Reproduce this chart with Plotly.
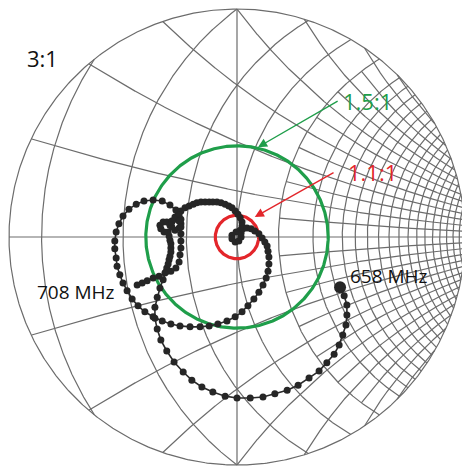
import numpy as np
import plotly.graph_objects as go

# ---- chart data ---------------------------------------------------------
# Zoomed Smith chart: outer boundary is the 3:1 VSWR circle
boundary_vswr = 3.0
vswr_circles = [1.5, 1.1]
vswr_colors = ["#1f9e4a", "#e3262b"]

# Constant-resistance / constant-reactance grid values
r_major = [0.4, 0.6, 0.8, 1.0, 1.2, 1.4]
r_fine = [1.5, 1.6, 1.7, 1.8, 1.9, 2.0, 2.1, 2.2, 2.3, 2.4, 2.5, 2.6, 2.7, 2.8, 2.9, 3.0]
x_major = [0.2, 0.4, 0.6, 0.8, 1.0, 1.2]
x_fine = [0.1, 0.3, 0.5, 0.7, 0.9, 1.1, 1.3]
x_fine_from_r = 1.2

# Measured reflection coefficient, 658 MHz -> 708 MHz
gamma_re = [0.226, 0.235, 0.241, 0.241, 0.239, 0.232, 0.224, 0.213, 0.197, 0.180,
            0.158, 0.134, 0.110, 0.083, 0.057, 0.029, 0.000, -0.026, -0.053, -0.077,
            -0.099, -0.118, -0.138, -0.154, -0.167, -0.175, -0.180, -0.180, -0.175, -0.169,
            -0.162, -0.156,
            -0.154, -0.151, -0.149, -0.147, -0.145, -0.145, -0.145, -0.147, -0.149,
            -0.151, -0.160, -0.167, -0.169, -0.162, -0.154, -0.147, -0.143, -0.136, -0.129,
            -0.123, -0.114, -0.105, -0.096, -0.088, -0.079, -0.070, -0.061, -0.053, -0.044,
            -0.035, -0.026, -0.018, -0.011, -0.004, 0.002, 0.007, 0.011, 0.011,
            0.007, -0.002, -0.011, -0.011, -0.004, 0.004, 0.009, 0.009, 0.013, 0.022,
            0.031, 0.039, 0.048, 0.055, 0.061, 0.066, 0.068,
            0.070, 0.070, 0.068, 0.064, 0.057, 0.048, 0.037, 0.024, 0.011, -0.004,
            -0.022, -0.042, -0.061, -0.081, -0.103, -0.125, -0.145, -0.164, -0.184, -0.202,
            -0.217, -0.230, -0.241, -0.250, -0.257, -0.263, -0.265, -0.268, -0.268, -0.265,
            -0.259, -0.250, -0.237, -0.221, -0.204, -0.184, -0.164, -0.147, -0.134,
            -0.127, -0.123, -0.123, -0.127, -0.136, -0.143, -0.143, -0.136, -0.127,
            -0.123, -0.123, -0.123, -0.123, -0.125, -0.127, -0.134, -0.145,
            -0.158, -0.171, -0.184, -0.197, -0.208, -0.219]
gamma_im = [-0.110, -0.129, -0.149, -0.171, -0.193, -0.215, -0.237, -0.257, -0.276, -0.294,
            -0.309, -0.325, -0.336, -0.344, -0.351, -0.353, -0.353, -0.349, -0.340, -0.329,
            -0.314, -0.296, -0.274, -0.250, -0.226, -0.202, -0.178, -0.154, -0.132, -0.112,
            -0.094, -0.077,
            -0.068, -0.059, -0.050, -0.042, -0.033, -0.024, -0.015, -0.007, 0.002,
            0.011, 0.011, 0.018, 0.026, 0.033, 0.033, 0.026, 0.035, 0.044, 0.050,
            0.057, 0.064, 0.068, 0.072, 0.075, 0.077, 0.077, 0.077, 0.077, 0.077,
            0.075, 0.072, 0.068, 0.064, 0.057, 0.050, 0.042, 0.033, 0.024,
            0.015, 0.011, 0.004, -0.004, -0.011, -0.009, 0.000, 0.009, 0.018, 0.020,
            0.018, 0.013, 0.007, -0.002, -0.011, -0.020, -0.031,
            -0.044, -0.059, -0.075, -0.090, -0.105, -0.121, -0.136, -0.151, -0.164, -0.175,
            -0.184, -0.191, -0.195, -0.197, -0.197, -0.195, -0.191, -0.184, -0.175, -0.164,
            -0.151, -0.136, -0.118, -0.101, -0.083, -0.064, -0.046, -0.026, -0.009, 0.011,
            0.029, 0.046, 0.061, 0.072, 0.079, 0.081, 0.079, 0.070, 0.059,
            0.048, 0.039, 0.029, 0.020, 0.015, 0.022, 0.033, 0.039, 0.035,
            0.022, 0.007, -0.009, -0.024, -0.039, -0.055, -0.068, -0.075,
            -0.079, -0.086, -0.090, -0.096, -0.101, -0.105]
freq_labels = ["658 MHz", "708 MHz"]

# ---- geometry helpers ---------------------------------------------------
g_max = (boundary_vswr - 1) / (boundary_vswr + 1)


def to_gamma(z):
    return (z - 1) / (z + 1)


def clipped(g):
    g = np.where(np.abs(g) <= g_max + 1e-9, g, np.nan + 1j * np.nan)
    return list(g.real) + [None], list(g.imag) + [None]


gx, gy = [], []
xs = np.linspace(-1.6, 1.6, 3000)
for r in r_major + r_fine:
    a, b = clipped(to_gamma(r + 1j * xs))
    gx += a
    gy += b
rs_all = np.linspace(0.3, 3.6, 3000)
rs_fine = np.linspace(x_fine_from_r, 3.6, 3000)
for xv in x_major:
    for s in (1, -1):
        a, b = clipped(to_gamma(rs_all + 1j * s * xv))
        gx += a
        gy += b
for xv in x_fine:
    for s in (1, -1):
        a, b = clipped(to_gamma(rs_fine + 1j * s * xv))
        gx += a
        gy += b
# real axis and vertical centre line
gx += [-g_max, g_max, None, 0, 0, None]
gy += [0, 0, None, -g_max, g_max, None]
# outer 3:1 boundary
t = np.linspace(0, 2 * np.pi, 721)
gx += list(g_max * np.cos(t))
gy += list(g_max * np.sin(t))

grid_color = "#6c6c6c"
fig = go.Figure()
fig.add_trace(go.Scatter(x=gx, y=gy, mode="lines",
                         line=dict(color=grid_color, width=1.2),
                         hoverinfo="skip", showlegend=False))

for s, col in zip(vswr_circles, vswr_colors):
    rad = (s - 1) / (s + 1)
    fig.add_trace(go.Scatter(x=rad * np.cos(t), y=rad * np.sin(t), mode="lines",
                             line=dict(color=col, width=3.2),
                             hoverinfo="skip", showlegend=False))

sizes = [12] + [7] * (len(gamma_re) - 1)
fig.add_trace(go.Scatter(x=gamma_re, y=gamma_im, mode="lines+markers",
                         line=dict(color="#2b2b2b", width=1.6),
                         marker=dict(color="#262626", size=sizes, opacity=1,
                                     line=dict(width=0)),
                         showlegend=False))

font = "Open Sans, Lato, sans-serif"
ann = []
# 3:1 boundary label
ann.append(dict(x=-0.465, y=0.392, xref="x", yref="y", text="3:1", showarrow=False,
                xanchor="left", yanchor="middle",
                font=dict(family=font, size=22, color="#111111")))
# VSWR circle labels with arrows
ann.append(dict(x=0.046, y=0.197, ax=0.224, ay=0.300, xref="x", yref="y",
                axref="x", ayref="y", text="", showarrow=True,
                arrowhead=2, arrowsize=1.3, arrowwidth=1.4, arrowcolor=vswr_colors[0]))
ann.append(dict(x=0.228, y=0.298, xref="x", yref="y", text="1.5:1", showarrow=False,
                xanchor="left", yanchor="middle",
                font=dict(family=font, size=22, color=vswr_colors[0])))
ann.append(dict(x=0.039, y=0.044, ax=0.215, ay=0.143, xref="x", yref="y",
                axref="x", ayref="y", text="", showarrow=True,
                arrowhead=2, arrowsize=1.3, arrowwidth=1.4, arrowcolor=vswr_colors[1]))
ann.append(dict(x=0.240, y=0.143, xref="x", yref="y", text="1.1:1", showarrow=False,
                xanchor="left", yanchor="middle",
                font=dict(family=font, size=22, color=vswr_colors[1])))
# sweep end labels
ann.append(dict(x=gamma_re[0], y=gamma_im[0], xref="x", yref="y", text=freq_labels[0],
                showarrow=False, xanchor="left", yanchor="bottom", xshift=8, yshift=-4,
                font=dict(family=font, size=19, color="#111111")))
ann.append(dict(x=gamma_re[-1], y=gamma_im[-1], xref="x", yref="y", text=freq_labels[1],
                showarrow=False, xanchor="right", yanchor="middle", xshift=-20, yshift=-7,
                font=dict(family=font, size=19, color="#111111")))

W, H = 462, 468
px_per_unit = 456
cx, cy = 237, 237
fig.update_layout(
    width=W, height=H, margin=dict(l=0, r=0, t=0, b=0),
    paper_bgcolor="white", plot_bgcolor="white",
    xaxis=dict(range=[-cx / px_per_unit, (W - cx) / px_per_unit], visible=False,
               showgrid=False, zeroline=False, fixedrange=True),
    yaxis=dict(range=[-(H - cy) / px_per_unit, cy / px_per_unit], visible=False,
               showgrid=False, zeroline=False, fixedrange=True),
    annotations=ann,
    showlegend=False,
)
fig.write_html("out.html")
